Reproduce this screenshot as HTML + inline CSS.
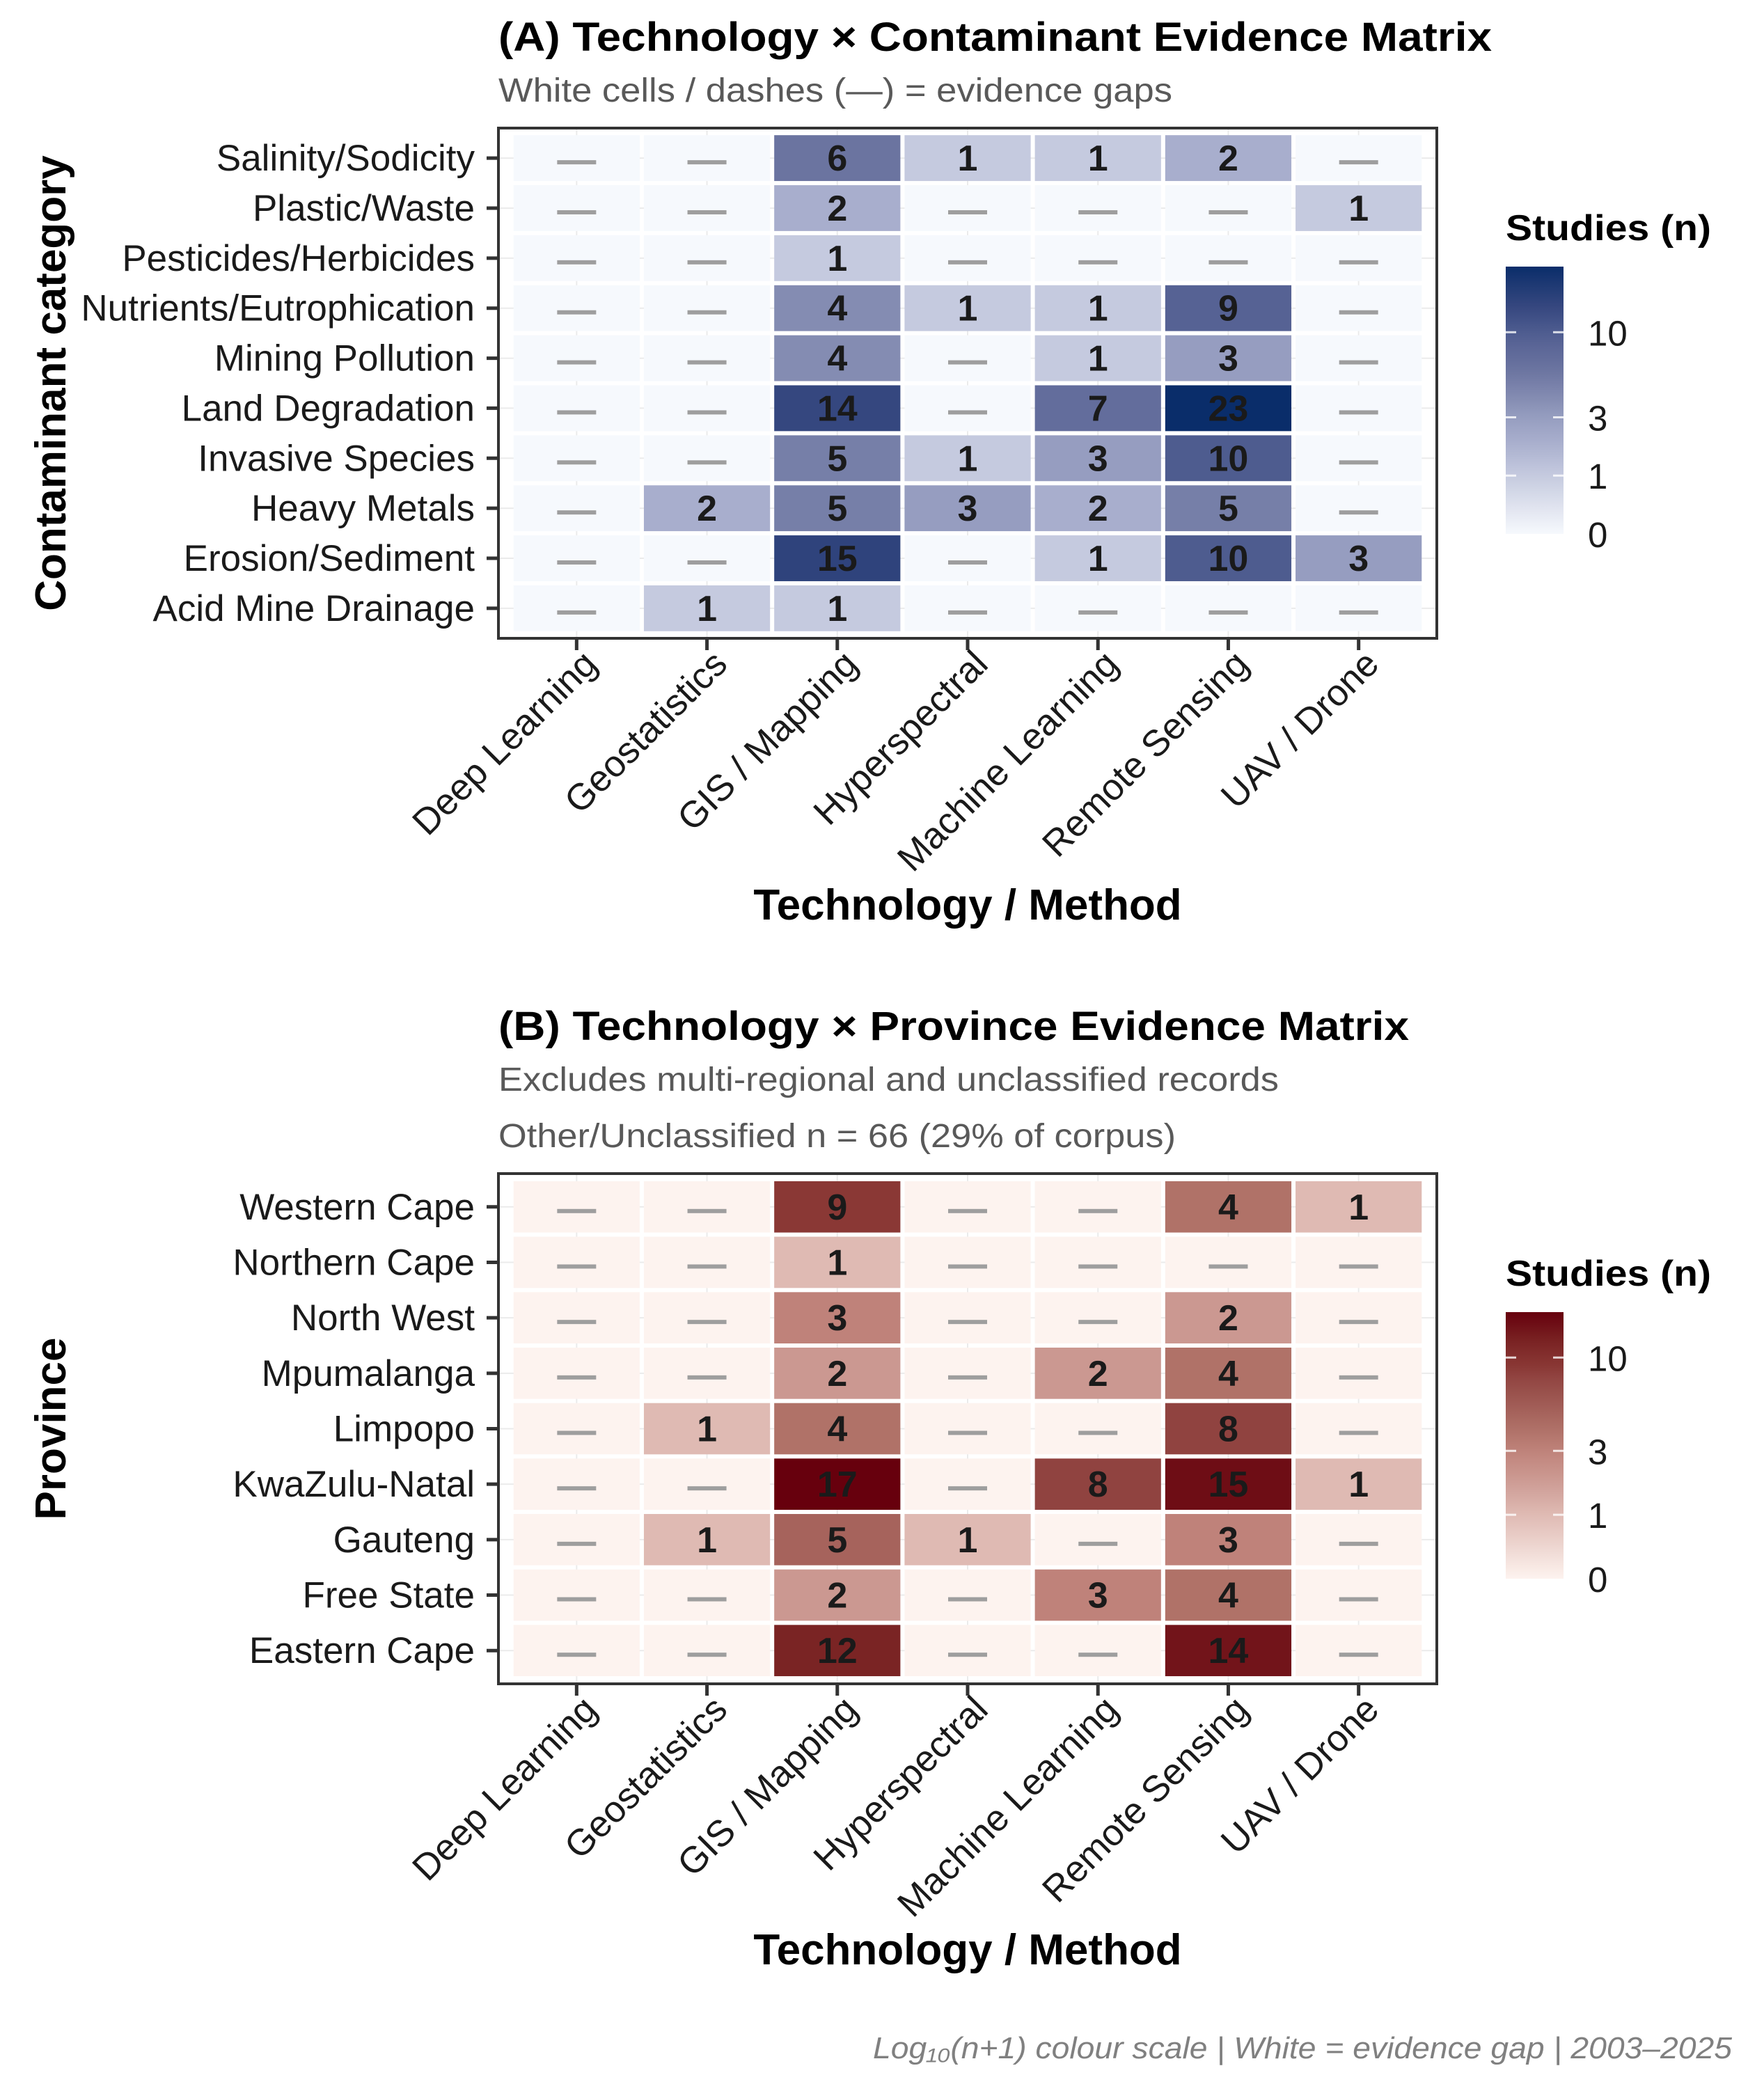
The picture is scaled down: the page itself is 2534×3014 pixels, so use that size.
<!DOCTYPE html>
<html><head><meta charset="utf-8"><style>
html,body{margin:0;padding:0;background:#fff;}
svg{display:block;font-family:"Liberation Sans",Arial,sans-serif;}
</style></head><body>
<svg id="root" width="2534" height="3014" viewBox="0 0 2534 3014" xmlns="http://www.w3.org/2000/svg">
<defs>
<linearGradient id="gradA" x1="0" y1="1" x2="0" y2="0"></linearGradient>
<linearGradient id="gradB" x1="0" y1="1" x2="0" y2="0"></linearGradient>
</defs>
<g id="panelA">
<text x="716" y="73" font-size="58" font-weight="bold" fill="#000" textLength="1427" lengthAdjust="spacingAndGlyphs">(A) Technology × Contaminant Evidence Matrix</text>
<text x="716" y="146" font-size="48" fill="#595959" textLength="968" lengthAdjust="spacingAndGlyphs">White cells / dashes (—) = evidence gaps</text>
</g>
<g id="panelB">
<text x="716" y="1494" font-size="58" font-weight="bold" fill="#000" textLength="1308" lengthAdjust="spacingAndGlyphs">(B) Technology × Province Evidence Matrix</text>
<text x="716" y="1567" font-size="48" fill="#595959" textLength="1121" lengthAdjust="spacingAndGlyphs">Excludes multi-regional and unclassified records</text>
<text x="716" y="1648" font-size="48" fill="#595959" textLength="973" lengthAdjust="spacingAndGlyphs">Other/Unclassified n = 66 (29% of corpus)</text>
</g>
<text x="2488" y="2957" font-size="44" font-style="italic" fill="#808080" text-anchor="end" textLength="1234" lengthAdjust="spacingAndGlyphs">Log₁₀(n+1) colour scale | White = evidence gap | 2003–2025</text>
</svg>
<script>
const technologies = ["Deep Learning","Geostatistics","GIS / Mapping","Hyperspectral","Machine Learning","Remote Sensing","UAV / Drone"];
const contaminants = ["Salinity/Sodicity","Plastic/Waste","Pesticides/Herbicides","Nutrients/Eutrophication","Mining Pollution","Land Degradation","Invasive Species","Heavy Metals","Erosion/Sediment","Acid Mine Drainage"];
const contaminantCounts = [
 [0,0,6,1,1,2,0],
 [0,0,2,0,0,0,1],
 [0,0,1,0,0,0,0],
 [0,0,4,1,1,9,0],
 [0,0,4,0,1,3,0],
 [0,0,14,0,7,23,0],
 [0,0,5,1,3,10,0],
 [0,2,5,3,2,5,0],
 [0,0,15,0,1,10,3],
 [0,1,1,0,0,0,0]
];
const provinces = ["Western Cape","Northern Cape","North West","Mpumalanga","Limpopo","KwaZulu-Natal","Gauteng","Free State","Eastern Cape"];
const provinceCounts = [
 [0,0,9,0,0,4,1],
 [0,0,1,0,0,0,0],
 [0,0,3,0,0,2,0],
 [0,0,2,0,2,4,0],
 [0,1,4,0,0,8,0],
 [0,0,17,0,8,15,1],
 [0,1,5,1,0,3,0],
 [0,0,2,0,3,4,0],
 [0,0,12,0,0,14,0]
];
const legendTicks = [0,1,3,10];

const NS = "http://www.w3.org/2000/svg";
const root = document.getElementById("root");
function mk(tag, attrs, parent){const e=document.createElementNS(NS,tag);for(const k in attrs)e.setAttribute(k,attrs[k]);(parent||root).appendChild(e);return e;}

const paletteA = [[0,"#f6f9fd"],[1,"#c5cadf"],[2,"#a8aecd"],[3,"#969dc0"],[4,"#848cb2"],[6,"#6b74a0"],[9,"#566294"],[14,"#35477f"],[23,"#0a2d6a"]];
const paletteB = [[0,"#fdf3ef"],[1,"#dfbab3"],[2,"#cb9891"],[3,"#bf827a"],[4,"#b07268"],[8,"#904340"],[9,"#8a3835"],[12,"#7a2424"],[17,"#67000d"]];
function hex2rgb(h){return [1,3,5].map(i=>parseInt(h.substr(i,2),16));}
function colorFor(pal,v){
  const t=Math.log1p(v);
  for(let i=0;i<pal.length-1;i++){
    const a=Math.log1p(pal[i][0]), b=Math.log1p(pal[i+1][0]);
    if(t<=b){const f=(t-a)/(b-a);const ca=hex2rgb(pal[i][1]),cb=hex2rgb(pal[i+1][1]);
      return "rgb("+ca.map((c,j)=>Math.round(c+(cb[j]-c)*f)).join(",")+")";}
  }
  return pal[pal.length-1][1];
}

function drawPanel(o){
  const g = mk("g",{},o.group);
  const nC=o.cols.length, nR=o.rows.length;
  const unitX=(o.right-o.left)/(nC-1+1.2), unitY=(o.bottom-o.top)/(nR-1+1.2);
  const xs=i=>o.left+(0.6+i)*unitX;
  const ys=j=>o.top+(0.6+j)*unitY;
  o.rows.forEach((r,j)=>{const l=mk("line",{x1:o.left,x2:o.right,y1:ys(j),y2:ys(j),stroke:"#ebebeb","stroke-width":2},g);
    
    });
  o.cols.forEach((c,i)=>{const l=mk("line",{x1:xs(i),x2:xs(i),y1:o.top,y2:o.bottom,stroke:"#ebebeb","stroke-width":2},g);
    
    });
  const max=Math.max(...o.data.flat());
  o.data.forEach((row,j)=>row.forEach((v,i)=>{
    const w=unitX-6,h=unitY-6;
    const r=mk("rect",{x:xs(i)-w/2,y:ys(j)-h/2,width:w,height:h,fill:colorFor(o.pal,v)},g);
    
    
    if(v>0){
      const t=mk("text",{x:xs(i),y:ys(j)+18,"font-size":52,"font-weight":"bold",fill:"#1a1a1a","text-anchor":"middle"},g);
      t.textContent=v;
      
      
    } else {
      const d=mk("rect",{x:xs(i)-28,y:ys(j)+3,width:56,height:6,fill:"#9e9e9e"},g);
      
      
    }
  }));
  const box=mk("rect",{x:o.left,y:o.top,width:o.right-o.left,height:o.bottom-o.top,fill:"none",stroke:"#333","stroke-width":4},g);
  
  
  o.rows.forEach((r,j)=>{
    const tk=mk("line",{x1:o.left-17,x2:o.left,y1:ys(j),y2:ys(j),stroke:"#333","stroke-width":5},g);
    
    
    const t=mk("text",{x:o.left-34,y:ys(j)+18,"font-size":53,fill:"#1a1a1a","text-anchor":"end"},g);
    t.textContent=r;
    
    
  });
  o.cols.forEach((c,i)=>{
    const tk=mk("line",{x1:xs(i),x2:xs(i),y1:o.bottom,y2:o.bottom+17,stroke:"#333","stroke-width":5},g);
    
    
    const ax=xs(i)+32, ay=o.bottom+40;
    const t=mk("text",{x:ax,y:ay,"font-size":53,fill:"#1a1a1a","text-anchor":"end",transform:"rotate(-45 "+ax+" "+ay+")"},g);
    t.textContent=c;
    
    
  });
  const xt=mk("text",{x:(o.left+o.right)/2,y:o.xTitleY,"font-size":62,"font-weight":"bold",fill:"#000","text-anchor":"middle"},g);
  xt.textContent="Technology / Method";
  
  
  const cy=(o.top+o.bottom)/2;
  const yt=mk("text",{x:94,y:cy,"font-size":62,"font-weight":"bold",fill:"#000","text-anchor":"middle",transform:"rotate(-90 94 "+cy+")"},g);
  yt.textContent=o.yTitle;
  
  
  const grad=document.getElementById(o.grad);
  const lmax=Math.log1p(max);
  for(let k=0;k<=20;k++){const v=Math.expm1(lmax*k/20);
    mk("stop",{offset:(k*5)+"%","stop-color":colorFor(o.pal,v)},grad);}
  const lt=mk("text",{x:2163,y:o.legTop-38,"font-size":52,"font-weight":"bold",fill:"#000",textLength:295,lengthAdjust:"spacingAndGlyphs"},g);
  lt.textContent="Studies (n)";
  
  
  const lb=mk("rect",{x:2163,y:o.legTop,width:83,height:o.legBottom-o.legTop,fill:"url(#"+o.grad+")"},g);
  
  
  legendTicks.forEach(v=>{
    const y=o.legBottom-(Math.log1p(v)/lmax)*(o.legBottom-o.legTop);
    if(v>0){
      [[2163,2178],[2231,2246]].forEach(p=>{const l=mk("line",{x1:p[0],x2:p[1],y1:y,y2:y,stroke:"#fff","stroke-width":3,"stroke-opacity":0.8},g);
        
        });
    }
    const t=mk("text",{x:2281,y:y+19,"font-size":51,fill:"#1a1a1a"},g);
    t.textContent=v;
    
    
  });
}
drawPanel({key:"a",group:document.getElementById("panelA"),cols:technologies,rows:contaminants,data:contaminantCounts,pal:paletteA,
  left:716,right:2064,top:184,bottom:917,xTitleY:1321,yTitle:"Contaminant category",grad:"gradA",legTop:383,legBottom:767});
drawPanel({key:"b",group:document.getElementById("panelB"),cols:technologies,rows:provinces,data:provinceCounts,pal:paletteB,
  left:716,right:2064,top:1686,bottom:2419,xTitleY:2822,yTitle:"Province",grad:"gradB",legTop:1885,legBottom:2268});
</script>
</body></html>
